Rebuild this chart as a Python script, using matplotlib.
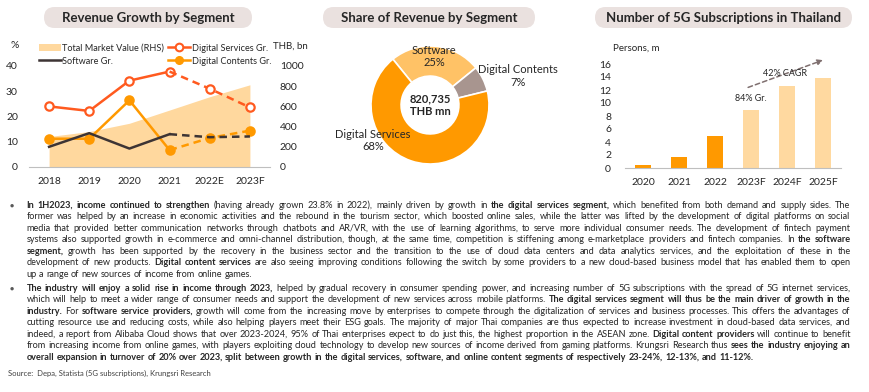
import matplotlib
matplotlib.use('Agg')
import matplotlib.pyplot as plt
from matplotlib.patches import FancyBboxPatch, Patch
from matplotlib.lines import Line2D
from matplotlib.transforms import IdentityTransform

plt.rcParams['font.family'] = ['Lato', 'DejaVu Sans']

# DATA
years = ['2018', '2019', '2020', '2021', '2022E', '2023F']
market_value = [302, 351, 433, 564, 696, 814]          # THB bn (RHS)
digital_services_gr = [24.0, 22.2, 34.2, 37.8, 31.0, 23.6]
software_gr = [8.0, 13.4, 7.3, 13.0, 11.8, 12.1]
digital_contents_gr = [11.2, 11.2, 26.4, 6.7, 11.5, 14.4]
n_actual = 4  # 2018-2021 actual, rest forecast

share_labels = ['Software', 'Digital Contents', 'Digital Services']
share_values = [25, 7, 68]
total_revenue = '820,735'

sub_years = ['2020', '2021', '2022', '2023F', '2024F', '2025F']
subscriptions = [0.4, 1.65, 4.9, 8.95, 12.6, 13.9]
n_sub_actual = 3

para1 = [
    "**In 1H2023, income continued to strengthen** (having already grown 23.8% in 2022), mainly driven by growth in **the digital services segment**, which benefited from both demand and supply sides. The",
    "former was helped by an increase in economic activities and the rebound in the tourism sector, which boosted online sales, while the latter was lifted by the development of digital platforms on social",
    "media that provided better communication networks through chatbots and AR/VR, with the use of learning algorithms, to serve more individual consumer needs. The development of fintech payment",
    "systems also supported growth in e-commerce and omni-channel distribution, though, at the same time, competition is stiffening among e-marketplace providers and fintech companies. In **the software**",
    "**segment**, growth has been supported by the recovery in the business sector and the transition to the use of cloud data centers and data analytics services, and the exploitation of these in the",
    "development of new products. **Digital content services** are also seeing improving conditions following the switch by some providers to a new cloud-based business model that has enabled them to open",
    "up a range of new sources of income from online games.",
]
para2 = [
    "**The industry will enjoy a solid rise in income through 2023**, helped by gradual recovery in consumer spending power, and increasing number of 5G subscriptions with the spread of 5G internet services,",
    "which will help to meet a wider range of consumer needs and support the development of new services across mobile platforms. **The digital services segment will thus be the main driver of growth in the**",
    "**industry**. For **software service providers**, growth will come from the increasing move by enterprises to compete through the digitalization of services and business processes. This offers the advantages of",
    "cutting resource use and reducing costs, while also helping players meet their ESG goals. The majority of major Thai companies are thus expected to increase investment in cloud-based data services, and",
    "indeed, a report from Alibaba Cloud shows that over 2023-2024, 95% of Thai enterprises expect to do just this, the highest proportion in the ASEAN zone. **Digital content providers** will continue to benefit",
    "from increasing income from online games, with players exploiting cloud technology to develop new sources of income derived from gaming platforms. Krungsri Research thus **sees the industry enjoying an**",
    "**overall expansion in turnover of 20% over 2023, split between growth in the digital services, software, and online content segments of respectively 23-24%, 12-13%, and 11-12%.**",
]
source = "Source:  Depa, Statista (5G subscriptions), Krungsri Research"

# COLOURS
c_ds = '#FF5A1F'
c_dc = '#FF9900'
c_sw = '#3D3434'
c_area = '#FFD89E'
c_pill = '#EAE1DF'
c_text = '#262626'
c_axis = '#BFBFBF'

W, H = 870, 392
fig = plt.figure(figsize=(W / 100, H / 100), dpi=100)
px = IdentityTransform()


def fbox(x0, y0, x1, y1):
    # image pixel box (top-left origin) -> figure fraction rect
    return [x0 / W, 1 - y1 / H, (x1 - x0) / W, (y1 - y0) / H]


def pill(x0, x1, title):
    fig.add_artist(FancyBboxPatch((x0, H - 28), x1 - x0, 21,
                                  boxstyle='round,pad=0,rounding_size=10.5',
                                  transform=px, fc=c_pill, ec='none'))
    fig.text((x0 + x1) / 2 / W, 1 - 17.5 / H, title, ha='center', va='center',
             fontsize=9.5, fontweight='bold', color=c_text)


pill(44, 252, 'Revenue Growth by Segment')
pill(323, 535, 'Share of Revenue by Segment')
pill(595, 852, 'Number of 5G Subscriptions in Thailand')

# LEFT: revenue growth
ax = fig.add_axes(fbox(29, 66, 270, 167))
ax2 = ax.twinx()
x = list(range(len(years)))
ax2.fill_between(x, 0, market_value, color=c_area, lw=0)
ax2.set_ylim(0, 1000)
ax2.set_yticks(range(0, 1001, 200))

a = n_actual
for vals, col, mfc in [(digital_services_gr, c_ds, 'white'),
                       (digital_contents_gr, c_dc, c_dc)]:
    ax.plot(x[:a], vals[:a], color=col, lw=1.8, marker='o', ms=6,
            mfc=mfc, mec=col, mew=1.6)
    ax.plot(x[a - 1:], vals[a - 1:], color=col, lw=1.8, ls=(0, (3, 2)),
            marker='o', ms=6, mfc=mfc, mec=col, mew=1.6, markevery=[1, 2])
ax.plot(x[:a], software_gr[:a], color=c_sw, lw=1.8)
ax.plot(x[a - 1:], software_gr[a - 1:], color=c_sw, lw=1.8, ls=(0, (3, 2)))

ax.set_zorder(ax2.get_zorder() + 1)
ax.patch.set_visible(False)
ax.set_ylim(0, 40)
ax.set_xlim(-0.5, len(years) - 0.5)
ax.set_xticks(x)
ax.set_xticklabels(years)
for a_ in (ax, ax2):
    for s in a_.spines.values():
        s.set_visible(False)
    a_.tick_params(length=0, labelsize=7.5, colors=c_text)
ax.spines['bottom'].set_visible(True)
ax.spines['bottom'].set_color(c_axis)
ax.tick_params(axis='x', pad=7)
ax.tick_params(axis='y', pad=8)
ax2.tick_params(axis='y', pad=7)
fig.text(15 / W, 1 - 46 / H, '%', ha='center', va='center', fontsize=7.5, color=c_text)
fig.text(273 / W, 1 - 46 / H, 'THB, bn', ha='left', va='center', fontsize=7, color=c_text)

handles = [Patch(fc=c_area, ec='none'),
           Line2D([], [], color=c_sw, lw=1.8),
           Line2D([], [], color=c_ds, lw=1.8, marker='o', ms=5.5, mfc='white', mec=c_ds, mew=1.5),
           Line2D([], [], color=c_dc, lw=1.8, marker='o', ms=5.5, mfc=c_dc, mec=c_dc)]
labels = ['Total Market Value (RHS)', 'Software Gr.', 'Digital Services Gr.', 'Digital Contents Gr.']
fig.legend(handles, labels, loc='upper left', bbox_to_anchor=(34 / W, 1 - 39 / H),
           ncol=2, frameon=False, fontsize=6.6, handlelength=2.4, handletextpad=0.15,
           columnspacing=0.5, labelspacing=0.45, borderpad=0, labelcolor=c_text)

# MIDDLE: donut
axd = fig.add_axes(fbox(430 - 59, 105 - 59, 430 + 59, 105 + 59))
axd.pie(share_values, colors=['#FFC266', '#A8958F', '#FF9900'], startangle=129,
        counterclock=False, radius=1, wedgeprops=dict(width=0.51, ec='white', lw=1.2))
axd.set_aspect('equal')
axd.set_xlim(-1, 1)
axd.set_ylim(-1, 1)
label_pos = [(0.07, 0.82), (1.49, 0.49), (-0.97, -0.6)]
for lab, v, (lx, ly) in zip(share_labels, share_values, label_pos):
    axd.text(lx, ly, f'{lab}\n{v}%', ha='center', va='center', fontsize=8,
             color=c_text, linespacing=1.15, clip_on=False)
axd.text(0, 0, f'{total_revenue}\nTHB mn', ha='center', va='center', fontsize=8,
         fontweight='bold', color=c_text, linespacing=1.2)

# RIGHT: 5G subscriptions
axb = fig.add_axes(fbox(625, 64, 841, 168))
xb = list(range(len(sub_years)))
cols = ['#FF9900'] * n_sub_actual + ['#FFD9A0'] * (len(sub_years) - n_sub_actual)
axb.bar(xb, subscriptions, width=0.46, color=cols)
axb.set_xlim(-0.5, len(sub_years) - 0.5)
axb.set_ylim(0, 16)
axb.set_yticks(range(0, 17, 2))
axb.set_xticks(xb)
axb.set_xticklabels(sub_years)
for s in axb.spines.values():
    s.set_visible(False)
axb.spines['bottom'].set_visible(True)
axb.spines['bottom'].set_color(c_axis)
axb.tick_params(length=0, labelsize=7.5, colors=c_text)
axb.tick_params(axis='x', pad=7)
axb.tick_params(axis='y', pad=10)
fig.text(613 / W, 1 - 48 / H, 'Persons, m', ha='left', va='center', fontsize=7, color=c_text)
axb.text(3, subscriptions[3] + 1.7, '84% Gr.', ha='center', va='center', fontsize=6.5, color=c_text)
axb.annotate('', xy=(5.0, 16.6), xytext=(2.92, 12.4), annotation_clip=False,
             arrowprops=dict(arrowstyle='-|>', color='#7F6F6F', lw=1.1, ls=(0, (3, 2)),
                             mutation_scale=8, shrinkA=0, shrinkB=0))
axb.text(3.94, 14.6, '42% CAGR', ha='center', va='center', fontsize=6.5, color=c_text)

# TEXT BLOCK (justified lines with inline bold)
renderer = fig.canvas.get_renderer()


def parse(line):
    words, cur, piece, bold, i = [], [], '', False, 0

    def flush():
        nonlocal piece
        if piece:
            # glue lone punctuation onto the previous piece
            if cur and all(ch in '.,;:' for ch in piece):
                p0, b0 = cur[-1]
                cur[-1] = (p0 + piece, b0)
            else:
                cur.append((piece, bold))
            piece = ''

    while i < len(line):
        if line.startswith('**', i):
            flush()
            bold = not bold
            i += 2
            continue
        c = line[i]
        if c == ' ':
            flush()
            if cur:
                words.append(cur)
                cur = []
        else:
            piece += c
        i += 1
    flush()
    if cur:
        words.append(cur)
    return words


def width_of(s, size, bold):
    t = fig.text(0, 0, s, fontsize=size, fontweight='bold' if bold else 'normal', transform=px)
    w = t.get_window_extent(renderer).width
    t.remove()
    return w


x_left, x_right = 26.5, 850.5
target = x_right - x_left

# fit the font size so the longest justified line fits
test = 10
nat = []
for para in (para1, para2):
    for ln in para[:-1]:
        ws = parse(ln)
        tot = sum(width_of(p, test, b) for w in ws for p, b in w)
        tot += (len(ws) - 1) * (width_of('x x', test, False) - width_of('xx', test, False))
        nat.append(tot)
body_size = test * target / max(nat) * 0.995


def draw_line(y, line, justify):
    ws = parse(line)
    items = []
    for w in ws:
        pieces = [(p, b, width_of(p, body_size, b)) for p, b in w]
        items.append(pieces)
    total = sum(pw for w in items for _, _, pw in w)
    sp = width_of('x x', body_size, False) - width_of('xx', body_size, False)
    gap = (target - total) / (len(items) - 1) if justify and len(items) > 1 else sp
    xx = x_left
    yb = H - round(y)
    for w in items:
        for p, b, pw in w:
            fig.text(xx, yb, p, fontsize=body_size, fontweight='bold' if b else 'normal',
                     color=c_text, transform=px, va='baseline')
            xx += pw
        xx += gap


lh = 11.45
for para, y0 in ((para1, 208), (para2, 291)):
    fig.text(12, H - y0 + 0.5, '\u25cf', fontsize=5, color='#595959', transform=px,
             va='baseline', ha='center')
    for k, ln in enumerate(para):
        draw_line(y0 + k * lh, ln, k < len(para) - 1)

fig.text(8 / W, 1 - 373 / H, source, fontsize=5.5, color='#404040', va='center', ha='left')

fig.savefig('out.png', dpi=100)
